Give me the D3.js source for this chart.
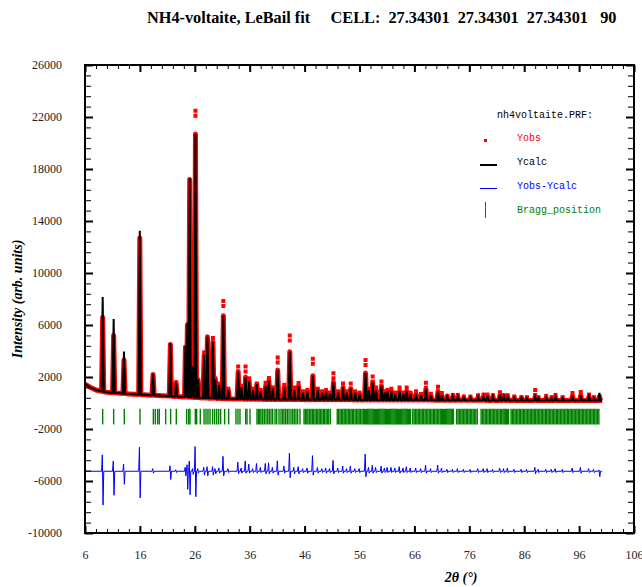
<!DOCTYPE html>
<html>
<head>
<meta charset="utf-8">
<script src="https://cdn.jsdelivr.net/npm/d3@7"></script>
<style>
  body { margin: 0; background: #fff; }
  svg { display: block; }
</style>
</head>
<body>
<div id="chart-area"></div>
<script>
// background level of the pattern (2theta, counts)
const bgAngle = [6, 7, 8, 9, 10, 12, 14, 16, 18, 20, 24, 28, 32, 36, 40, 45, 50, 55, 60, 65, 70, 75, 80, 85, 90, 95, 100.2];
const bgCounts = [1450, 1200, 1000, 900, 830, 760, 700, 650, 600, 560, 470, 380, 320, 290, 270, 260, 250, 240, 240, 230, 220, 210, 200, 200, 190, 190, 190];

// reflections: position, Ycalc apex, Yobs apex, difference up / down
const peakAngle = [9.22, 11.22, 13.1, 15.98, 18.4, 21.55, 22.6, 24.3, 24.65, 25.07, 25.65, 26.12, 26.6, 27.7, 28.3, 29.3, 29.75, 30.45, 31.2, 32.1,
  33.9, 34.5, 35.25, 35.9, 36.6, 37.3, 38.0, 38.9, 39.5, 40.2, 41.1, 42.3, 43.3, 44.1, 44.9, 45.7, 46.5, 47.5, 48.4, 49.2,
  49.9, 50.6, 51.25, 52.1, 53.0, 53.7, 54.4, 55.2, 56.0, 57.1, 57.7, 58.4, 59.0, 60.0, 60.6, 61.1, 61.8, 62.5, 63.3, 64.0,
  64.6, 65.3, 66.3, 67.2, 68.1, 69.0, 70.3, 71.0, 72.0, 73.0, 73.9, 75.0, 76.2, 77.6, 78.6, 79.3, 80.3, 81.6, 82.3, 83.0,
  84.2, 85.5, 86.5, 88.0, 88.6, 90.0, 91.0, 91.7, 93.0, 94.8, 96.3, 97.8, 98.7, 99.7];
const peakCalc = [8150, 6460, 3950, 13250, 2230, 4620, 1560, 4380, 6200, 17280, 2800, 20700, 1800, 3700, 5100, 4700, 1800, 1400, 6720, 1000,
  2400, 1200, 2000, 1700, 1000, 1450, 900, 1300, 1700, 1100, 2540, 1200, 3950, 1000, 1300, 800, 900, 2100, 1000, 800,
  900, 700, 1600, 800, 1200, 800, 1100, 800, 700, 2300, 1000, 1600, 1000, 1300, 800, 900, 900, 700, 900, 700,
  900, 700, 700, 600, 1100, 600, 900, 600, 500, 500, 500, 400, 400, 450, 500, 550, 500, 650, 500, 450,
  400, 400, 350, 490, 350, 400, 350, 450, 350, 550, 600, 500, 350, 770];
const peakObs = [6600, 5200, 3300, 12700, 2200, 4500, 1600, 4300, 6000, 17200, 2900, 22490, 1800, 3900, 5100, 5000, 1900, 1500, 7850, 1100,
  2800, 1300, 2800, 1900, 1100, 1500, 1000, 1560, 1920, 1200, 3500, 1400, 5200, 1200, 1540, 900, 1000, 3400, 1100, 900,
  1000, 800, 2290, 900, 1500, 900, 1500, 900, 800, 3300, 1100, 2030, 1200, 1650, 900, 1000, 1100, 800, 1200, 800,
  1200, 800, 900, 700, 1560, 700, 1250, 770, 550, 620, 620, 500, 500, 600, 650, 650, 600, 830, 600, 600,
  500, 450, 450, 1000, 450, 550, 450, 620, 450, 770, 850, 650, 450, 500];
const diffUp = [1260, 790, 560, 1850, 200, 420, 120, 300, 500, 790, 200, 1900, 200, 300, 350, 350, 200, 250, 1150, 200,
  700, 250, 790, 550, 200, 600, 300, 600, 650, 300, 800, 400, 1400, 300, 350, 200, 250, 1200, 300, 200,
  250, 200, 840, 250, 400, 200, 400, 200, 200, 1320, 300, 450, 300, 400, 250, 300, 300, 250, 350, 250,
  350, 250, 250, 200, 480, 200, 480, 250, 150, 150, 200, 150, 150, 200, 200, 200, 150, 250, 200, 250,
  150, 150, 150, 300, 150, 150, 150, 200, 150, 250, 300, 200, 150, 100];
const diffDown = [2600, 1850, 1000, 2050, 150, 630, 100, 350, 1400, 1800, 250, 1960, 150, 300, 350, 300, 200, 150, 360, 100,
  200, 150, 150, 150, 100, 150, 100, 200, 200, 150, 300, 150, 500, 200, 200, 100, 150, 300, 150, 100,
  150, 100, 200, 100, 150, 100, 150, 100, 100, 420, 150, 150, 100, 150, 100, 100, 100, 100, 150, 100,
  100, 100, 100, 100, 150, 100, 150, 100, 100, 100, 100, 100, 100, 100, 100, 100, 100, 100, 100, 100,
  100, 100, 100, 200, 100, 100, 100, 100, 100, 100, 150, 100, 100, 420];

// Bragg reflection positions (2theta)
const braggAngle = [9.22, 11.22, 13.16, 16.02, 18.45, 18.81, 19.24, 19.53, 20.69, 21.6, 22.63, 24.52, 24.89, 25.12, 26.09, 26.34, 27.0, 27.68, 28.04, 28.4,
  28.77, 29.26, 29.62, 29.99, 30.35, 30.71, 31.44, 32.17, 33.5, 33.87, 34.23, 35.27, 35.51, 36.05, 37.33, 37.57, 37.82, 38.06, 38.37, 38.66,
  38.97, 39.28, 39.57, 39.88, 40.19, 40.61, 40.92, 41.34, 41.7, 42.01, 42.25, 42.56, 42.85, 43.16, 43.52, 43.83, 44.12, 44.43, 44.74, 45.16,
  45.9, 46.15, 46.4, 46.62, 46.9, 47.15, 47.4, 47.62, 47.9, 48.15, 48.4, 48.65, 48.88, 49.15, 49.4, 49.62, 49.9, 50.15, 50.4, 50.7,
  51.95, 52.2, 52.45, 52.7, 52.95, 53.2, 53.42, 53.7, 53.95, 54.2, 54.45, 54.7, 54.92, 55.2, 55.45, 55.7, 55.95, 56.2, 56.45, 56.7,
  56.9, 57.1, 57.3, 57.5, 57.7, 57.9, 58.1, 58.3, 58.5, 58.7, 58.9, 59.1, 59.3, 59.5, 59.7, 59.9, 60.1, 60.3, 60.5, 60.7,
  60.9, 61.1, 61.3, 61.5, 61.7, 61.9, 62.1, 62.3, 62.5, 62.7, 62.9, 63.1, 63.3, 63.5, 63.7, 63.9, 64.1, 64.3, 64.5, 64.7,
  64.9, 65.1, 65.3, 65.7, 65.95, 66.2, 66.45, 66.7, 66.95, 67.2, 67.45, 67.7, 67.95, 68.2, 68.45, 68.7, 68.95, 69.2, 69.45, 69.7,
  69.95, 70.2, 70.45, 70.7, 70.9, 71.1, 71.3, 71.5, 71.7, 71.9, 72.1, 72.3, 72.5, 72.7, 72.9, 73.1, 73.7, 73.95, 74.2, 74.45,
  74.7, 74.95, 75.2, 75.45, 75.7, 75.95, 76.2, 76.45, 76.7, 76.95, 77.2, 77.45, 78.15, 78.4, 78.65, 78.9, 79.15, 79.4, 79.65, 79.9,
  80.15, 80.4, 80.65, 80.9, 81.15, 81.4, 81.65, 81.9, 82.15, 82.35, 82.55, 82.75, 82.95, 83.15, 83.6, 83.85, 84.1, 84.35, 84.6, 84.85,
  85.1, 85.35, 85.6, 85.85, 86.1, 86.35, 86.6, 86.85, 87.1, 87.35, 87.6, 87.85, 88.1, 88.35, 88.6, 88.85, 89.1, 89.35, 89.6, 89.85,
  90.1, 90.35, 90.6, 90.85, 91.1, 91.35, 91.6, 91.85, 92.1, 92.35, 92.6, 92.85, 93.1, 93.35, 93.6, 93.85, 94.1, 94.35, 94.6, 94.85,
  95.1, 95.35, 95.6, 95.85, 96.1, 96.35, 96.6, 96.85, 97.1, 97.35, 97.6, 97.85, 98.1, 98.35, 98.6, 98.85, 99.1, 99.35, 99.6];

const xTickLabels = [6, 16, 26, 36, 46, 56, 66, 76, 86, 96, 106];
const yTickLabels = [26000, 22000, 18000, 14000, 10000, 6000, 2000, -2000, -6000, -10000];

const legendLabels = ["Yobs", "Ycalc", "Yobs-Ycalc", "Bragg_position"];
const titleText = "NH4-voltaite, LeBail fit     CELL:  27.34301  27.34301  27.34301   90";

const chartWidth = 642;
const chartHeight = 587;
const margin = {top: 65, right: 8, bottom: 54, left: 85};
const width = chartWidth - margin.left - margin.right;
const height = chartHeight - margin.top - margin.bottom;

const red = "#ff0000", blue = "#0000ff", green = "#008000";
const serif = "'Liberation Serif', 'DejaVu Serif', serif";
const mono = "'Liberation Mono', 'DejaVu Sans Mono', monospace";

const diffZero = -5250;     // level of the difference curve
const braggTop = -450, braggBottom = -1650;
const start = bgAngle[0], end = bgAngle[bgAngle.length - 1];

let svg = d3.select("#chart-area").append("svg")
  .attr("width", chartWidth)
  .attr("height", chartHeight);

let g = svg.append("g")
  .attr("transform", `translate(${margin.left}, ${margin.top})`);

const x = d3.scaleLinear().domain([6, 106]).range([0, width]);
const y = d3.scaleLinear().domain([-10000, 26000]).range([height, 0]);
const background = d3.scaleLinear().domain(bgAngle).range(bgCounts);

svg.append("defs").append("clipPath").attr("id", "plot-clip")
  .append("rect").attr("width", width).attr("height", height);

// half width of each peak, limited by its neighbours
const halfWidth = peakAngle.map((p, i) => {
  const prev = i > 0 ? peakAngle[i - 1] : start;
  const next = i < peakAngle.length - 1 ? peakAngle[i + 1] : end;
  return Math.min(0.2, (p - prev) / 2, (next - p) / 2);
});

function profile(heights) {
  const pts = [];
  peakAngle.forEach((p, i) => {
    const w = halfWidth[i];
    pts.push([p - w, background(p - w)], [p, heights[i]], [p + w, background(p + w)]);
  });
  bgAngle.forEach(a => {
    const inside = peakAngle.some((p, i) => a > p - halfWidth[i] && a < p + halfWidth[i]);
    if (!inside) pts.push([a, background(a)]);
  });
  return pts.sort((a, b) => a[0] - b[0]);
}

const diffPts = [[start, diffZero]];
peakAngle.forEach((p, i) => {
  const w = halfWidth[i];
  diffPts.push([p - w, diffZero], [p - w / 3, diffZero + diffUp[i]],
    [p + w / 3, diffZero - diffDown[i]], [p + w, diffZero]);
});
diffPts.push([end, diffZero]);

const line = d3.line().x(d => x(d[0])).y(d => y(d[1]));

let plot = g.append("g").attr("clip-path", "url(#plot-clip)");

// Bragg positions
plot.selectAll(".bragg").data(braggAngle).enter().append("line")
  .attr("class", "bragg")
  .attr("x1", d => x(d)).attr("x2", d => x(d))
  .attr("y1", y(braggTop)).attr("y2", y(braggBottom))
  .attr("stroke", green)
  .attr("stroke-width", 1.4);

// observed: band along the profile, loose points where Yobs tops Ycalc
const obsBand = peakObs.map((v, i) => Math.min(v, peakCalc[i]));
plot.append("path")
  .attr("d", line(profile(obsBand)))
  .attr("fill", "none")
  .attr("stroke", red)
  .attr("stroke-width", 5)
  .attr("stroke-linejoin", "round");

const loose = peakAngle.map((p, i) => ({p: p, obs: peakObs[i], calc: peakCalc[i]}))
  .filter(d => d.obs > d.calc);
plot.selectAll(".obs").data(loose).enter().append("line")
  .attr("class", "obs")
  .attr("x1", d => x(d.p)).attr("x2", d => x(d.p))
  .attr("y1", d => y(d.obs) - 2)
  .attr("y2", d => Math.min(y(d.obs) + 7, y(d.calc)))
  .attr("stroke", red)
  .attr("stroke-width", 4)
  .attr("stroke-dasharray", "4 1");

// calculated
plot.append("path")
  .attr("d", line(profile(peakCalc)))
  .attr("fill", "none")
  .attr("stroke", "#000")
  .attr("stroke-width", 2);

// difference
plot.append("path")
  .attr("d", line(diffPts))
  .attr("fill", "none")
  .attr("stroke", blue)
  .attr("stroke-width", 1);

// axes, ticks pointing inwards on all four sides
function styleAxis(sel, major) {
  sel.select(".domain").remove();
  sel.selectAll(".tick line").attr("stroke", "#000").attr("stroke-width", major ? 2 : 1);
  sel.selectAll(".tick text")
    .attr("font-family", serif)
    .attr("font-size", "12px")
    .attr("fill", "#222");
}

const xMinor = d3.range(6, 107, 2);
const yMinor = d3.range(-10000, 26001, 800);
const fmt = d => String(d);

g.append("g").attr("transform", `translate(0, ${height})`)
  .call(d3.axisBottom(x).tickValues(xMinor).tickSize(-4).tickFormat(""))
  .call(s => styleAxis(s, false));
g.append("g").attr("transform", `translate(0, ${height})`)
  .call(d3.axisBottom(x).tickValues(xTickLabels).tickSize(-7).tickPadding(17).tickFormat(fmt))
  .call(s => styleAxis(s, true));
g.append("g")
  .call(d3.axisTop(x).tickValues(xMinor).tickSize(-4).tickFormat(""))
  .call(s => styleAxis(s, false));
g.append("g")
  .call(d3.axisTop(x).tickValues(xTickLabels).tickSize(-7).tickFormat(""))
  .call(s => styleAxis(s, true));

g.append("g")
  .call(d3.axisLeft(y).tickValues(yMinor).tickSize(-6).tickFormat(""))
  .call(s => styleAxis(s, false));
g.append("g")
  .call(d3.axisLeft(y).tickValues(yTickLabels).tickSize(-8).tickPadding(23).tickFormat(fmt))
  .call(s => styleAxis(s, true));
g.append("g").attr("transform", `translate(${width}, 0)`)
  .call(d3.axisRight(y).tickValues(yMinor).tickSize(-6).tickFormat(""))
  .call(s => styleAxis(s, false));
g.append("g").attr("transform", `translate(${width}, 0)`)
  .call(d3.axisRight(y).tickValues(yTickLabels).tickSize(-8).tickFormat(""))
  .call(s => styleAxis(s, true));

g.append("rect")
  .attr("width", width).attr("height", height)
  .attr("fill", "none")
  .attr("stroke", "#000")
  .attr("stroke-width", 2);

// axis labels and title
g.append("text")
  .attr("x", -(y(8000)))
  .attr("y", -63)
  .attr("transform", "rotate(-90)")
  .attr("text-anchor", "middle")
  .attr("font-family", serif)
  .attr("font-size", "14px")
  .attr("font-weight", "bold")
  .attr("font-style", "italic")
  .text("Intensity (arb. units)");

g.append("text")
  .attr("x", x(74.5))
  .attr("y", height + 49)
  .attr("text-anchor", "middle")
  .attr("font-family", serif)
  .attr("font-size", "14px")
  .attr("font-weight", "bold")
  .attr("font-style", "italic")
  .text("2θ (°)");

svg.append("text")
  .attr("x", 147)
  .attr("y", 23)
  .attr("font-family", serif)
  .attr("font-size", "16.3px")
  .attr("font-weight", "bold")
  .style("white-space", "pre")
  .text(titleText);

// legend
let legend = svg.append("g").attr("font-family", mono).attr("font-size", "10px");
legend.append("text").attr("x", 497).attr("y", 118).attr("fill", "#000").text("nh4voltaite.PRF:");
const legendColors = [red, "#000", blue, green];
legendLabels.forEach((label, i) => {
  const ly = 141 + i * 24;
  legend.append("text").attr("x", 517).attr("y", ly).attr("fill", legendColors[i]).text(label);
});
legend.append("rect").attr("x", 484).attr("y", 139).attr("width", 3).attr("height", 3).attr("fill", red);
legend.append("line").attr("x1", 480).attr("x2", 497).attr("y1", 165).attr("y2", 165)
  .attr("stroke", "#000").attr("stroke-width", 2);
legend.append("line").attr("x1", 480).attr("x2", 497).attr("y1", 188.5).attr("y2", 188.5)
  .attr("stroke", blue).attr("stroke-width", 1);
legend.append("line").attr("x1", 485.5).attr("x2", 485.5).attr("y1", 202).attr("y2", 218)
  .attr("stroke", green).attr("stroke-width", 1);
</script>
</body>
</html>
